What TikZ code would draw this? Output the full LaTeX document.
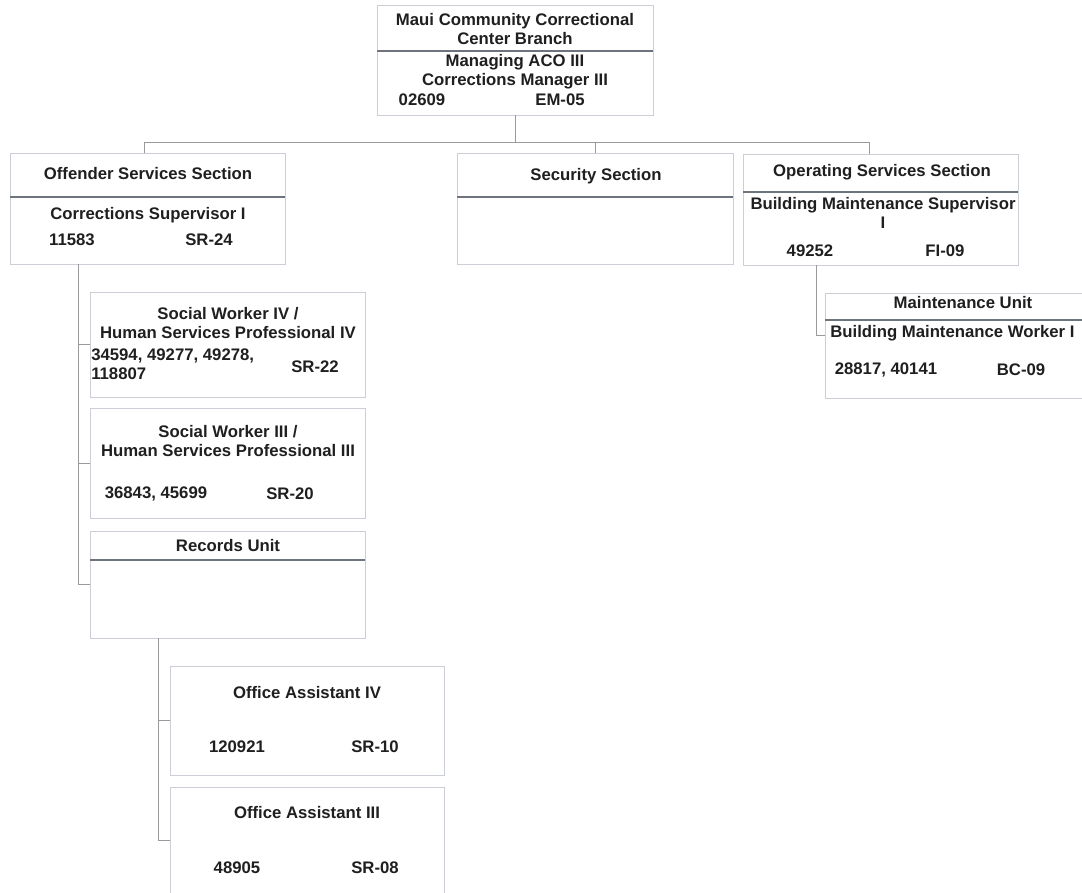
\documentclass[tikz,border=0pt]{standalone}
\usepackage{fontspec}
\setmainfont{Liberation Sans}
\definecolor{boxline}{HTML}{CDCFD6}
\definecolor{barline}{HTML}{6E747C}
\definecolor{linkline}{HTML}{9A9A9A}
\newcommand{\orgbox}[5]{\node[box, minimum width = #4*0.025cm, minimum height = #5*0.025cm] (#1) at (#2,#3) {};}
\newcommand{\divline}[2]{\draw[divider] (#1.west |- 0,#2) -- (#1.east |- 0,#2);}

\begin{document}
\begin{tikzpicture}[x = 0.025cm, y = -0.025cm,
  box/.style = {draw = boxline, line width = 0.5pt, anchor = north west, inner sep = 0, outer sep = 0},
  divider/.style = {draw = barline, line width = 1.3pt},
  link/.style = {draw = linkline, line width = 0.5pt},
  txt/.style = {font = \bfseries\fontsize{11.9}{13.5}\selectfont, text = black!88, inner sep = 0, align = center}]
\useasboundingbox (0,0) rectangle (1082,892);
\clip (0,0) rectangle (1082,892);
% boxes
\orgbox{top}{377}{5}{276}{110}
\orgbox{off}{10}{153}{275}{111}
\orgbox{sec}{457}{153}{276}{111}
\orgbox{ops}{743}{154}{275}{111}
\orgbox{mnt}{825}{293}{276}{105}
\orgbox{swf}{90}{292}{275}{105}
\orgbox{swt}{90}{408}{275}{110}
\orgbox{rec}{90}{531}{275}{107}
\orgbox{oaf}{170}{666}{274}{109}
\orgbox{oat}{170}{787}{274}{106}
\divline{top}{51}
\divline{off}{197}
\divline{sec}{197}
\divline{ops}{192}
\divline{mnt}{320}
\divline{rec}{560}
% connectors
\coordinate (busL) at (144,142);
\coordinate (busR) at (869,142);
\coordinate (offSpine) at (78,0);
\coordinate (recSpine) at (158,0);
\coordinate (opsSpine) at (816,0);
\coordinate (mntIn) at (825,335);
\draw[link] (busL) -- (busR);
\draw[link] (top.south) -- (top.south |- busL);
\draw[link] (busL) -- (busL |- off.north);
\draw[link] (sec.north) -- (sec.north |- busL);
\draw[link] (busR) -- (busR |- ops.north);
\draw[link] (off.south -| offSpine) |- (rec.west);
\draw[link] (offSpine |- swf.west) -- (swf.west);
\draw[link] (offSpine |- swt.west) -- (swt.west);
\draw[link] (rec.south -| recSpine) |- (oat.west);
\draw[link] (recSpine |- oaf.west) -- (oaf.west);
\draw[link] (ops.south -| opsSpine) |- (mntIn);
% texts
\node[txt] (topA) at (515,29) {Maui Community Correctional\\Center Branch};
\node[txt] (topB) at (515,72) {Managing ACO III\\Corrections Manager III};
\node[txt] (topN) at (422,100) {02609};
\node[txt] (topG) at (560,100) {EM-05};
\node[txt] (offA) at (148,174) {Offender Services Section};
\node[txt] (offB) at (148,215) {Corrections Supervisor I};
\node[txt] (offN) at (72,240) {11583};
\node[txt] (offG) at (209,240) {SR-24};
\node[txt] (secA) at (596,176) {Security Section};
\node[txt] (opsA) at (882,172) {Operating Services Section};
\node[txt] (opsB) at (883,213) {Building Maintenance Supervisor\\I};
\node[txt] (opsN) at (810,251) {49252};
\node[txt] (opsG) at (945,251) {FI-09};
\node[txt] (mntA) at (963,303) {Maintenance Unit};
\node[txt, anchor = west] (mntB) at (830,333) {Building Maintenance Worker I};
\node[txt] (mntN) at (886,370) {28817, 40141};
\node[txt] (mntG) at (1021,370) {BC-09};
\node[txt] (swfA) at (228,323) {Social Worker IV /\\Human Services Professional IV};
\node[txt, anchor = west, align = left] (swfN) at (91,364) {34594, 49277, 49278,\\118807};
\node[txt] (swfG) at (315,367) {SR-22};
\node[txt] (swtA) at (228,441) {Social Worker III /\\Human Services Professional III};
\node[txt] (swtN) at (156,494) {36843, 45699};
\node[txt] (swtG) at (290,494) {SR-20};
\node[txt] (recA) at (228,546) {Records Unit};
\node[txt] (oafA) at (307,693) {Office Assistant IV};
\node[txt] (oafN) at (237,747) {120921};
\node[txt] (oafG) at (375,747) {SR-10};
\node[txt] (oatA) at (307,813) {Office Assistant III};
\node[txt] (oatN) at (237,868) {48905};
\node[txt] (oatG) at (375,868) {SR-08};
\end{tikzpicture}
\end{document}
